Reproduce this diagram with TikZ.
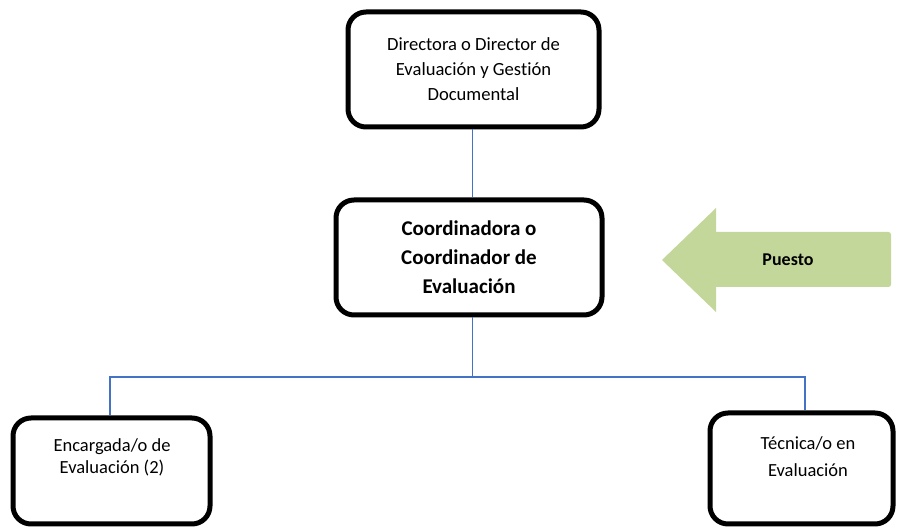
\documentclass[tikz,border=0pt]{standalone}
\usepackage{fontspec}
\setmainfont{Carlito}[Ligatures={NoCommon}]
\usetikzlibrary{calc}
\definecolor{connblue}{HTML}{4472C4}
\definecolor{puestogreen}{HTML}{C4D79B}
\begin{document}
\begin{tikzpicture}[x=1pt,y=-1pt,
  box/.style={draw=black, line width=5pt, rounded corners=18pt, fill=white, inner sep=0pt, align=center},
  normtxt/.style={font=\fontsize{18.6pt}{25pt}\selectfont, align=center},
  boldtxt/.style={font=\bfseries\fontsize{21pt}{29pt}\selectfont, align=center},
  conn/.style={draw=connblue, line width=1.4pt}]
\useasboundingbox (0,0) rectangle (898,529);
% boxes
\node[box, normtxt, minimum width=251pt, minimum height=115pt] (dir) at (473.5,69.5)
  {Directora o Director de\\Evaluación y Gestión\\Documental};
\node[box, boldtxt, minimum width=266pt, minimum height=115pt] (coord) at (469,257.5)
  {Coordinadora o\\Coordinador de\\Evaluación};
\node[box, minimum width=197pt, minimum height=106pt] (enc) at (111.5,471) {};
\node[normtxt, font=\fontsize{18.5pt}{22pt}\selectfont] (enct) at (112,457) {Encargada/o de\\Evaluación (2)};
\node[box, minimum width=183pt, minimum height=111pt] (tec) at (801.5,468.5) {};
\node[normtxt, font=\fontsize{18.5pt}{27pt}\selectfont] (tect) at (808,456.5) {Técnica/o en\\Evaluación};
% connectors
\coordinate (hub) at (472.5,377);
\draw[conn] (dir.south -| hub) -- (coord.north -| hub);
\draw[conn] (coord.south -| hub) -- (hub);
\draw[conn] (hub) -| ($(enc.north)+(-1.5,0)$);
\draw[conn] (hub) -| ($(tec.north)+(3.5,0)$);
% Puesto arrow
\fill[puestogreen] (662,260) -- (716,208) -- (716,232)
  [rounded corners=2.5pt] -- (891,232) -- (891,287) [sharp corners] -- (716,287) -- (716,312) -- cycle;
\node[font=\bfseries\fontsize{18pt}{20pt}\selectfont] (puesto) at (788,260) {Puesto};
\end{tikzpicture}
\end{document}
